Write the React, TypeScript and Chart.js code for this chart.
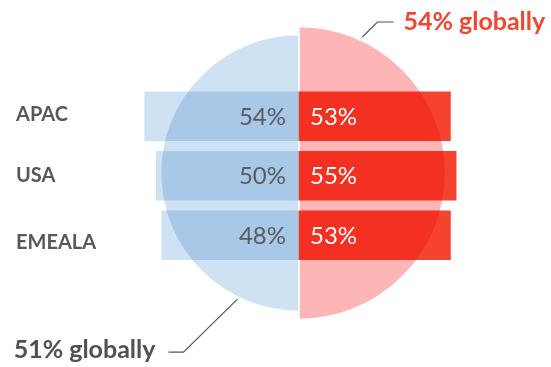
import React, { useEffect, useRef } from "react";
import { Chart, registerables } from "chart.js";

Chart.register(...registerables);

// ---- data ----
const regions = ["APAC", "USA", "EMEALA"];
const leftValues = [54, 50, 48]; // blue, drawn to the left of centre
const rightValues = [53, 55, 53]; // red, drawn to the right of centre
const globalLabels = ["right half", "left half"];
const globalValues = [54, 51]; // [red (right half), blue (left half)]
const globalText = ["54% globally", "51% globally"];

// ---- styling ----
const W = 551;
const H = 367;
const FONT = "Lato, 'Open Sans', sans-serif";
const BLUE = "#cfe2f3";
const PINK = "#fdb6b5";
const RED = "#f6432f";
const GRAY = "#56585c";
const LABEL_NUDGE = [-2, 0, 7];

export default function App() {
  const polarRef = useRef<HTMLCanvasElement | null>(null);
  const barRef = useRef<HTMLCanvasElement | null>(null);

  useEffect(() => {
    const polarCanvas = polarRef.current!;
    const barCanvas = barRef.current!;

    const polar = new Chart(polarCanvas, {
      type: "polarArea",
      data: {
        labels: globalLabels,
        datasets: [
          {
            data: globalValues,
            backgroundColor: [PINK, BLUE],
            borderColor: "#ffffff",
            borderWidth: 1.5,
          },
        ],
      },
      options: {
        responsive: false,
        animation: false,
        devicePixelRatio: 1,
        layout: { padding: { left: 137, right: 90, top: 11, bottom: 32 } },
        scales: { r: { display: false, min: 0, max: 59.7 } },
        plugins: { legend: { display: false }, tooltip: { enabled: false } },
      } as any,
    });

    const overlay = {
      id: "overlay",
      beforeDraw(chart: any) {
        const ctx = chart.ctx as CanvasRenderingContext2D;
        ctx.save();
        ctx.drawImage(polarCanvas, 0, 0);
        ctx.restore();
      },
      beforeDatasetsDraw(chart: any) {
        chart.ctx.save();
        chart.ctx.globalCompositeOperation = "multiply";
      },
      afterDatasetsDraw(chart: any) {
        const ctx = chart.ctx as CanvasRenderingContext2D;
        ctx.restore();
        const leftMeta = chart.getDatasetMeta(0);
        const rightMeta = chart.getDatasetMeta(1);
        ctx.save();
        ctx.textBaseline = "middle";
        regions.forEach((name, i) => {
          const lb = leftMeta.data[i];
          const rb = rightMeta.data[i];
          const centre = chart.scales.x.getPixelForValue(0);
          ctx.font = `24px ${FONT}`;
          ctx.fillStyle = "#5a5b5e";
          ctx.textAlign = "right";
          ctx.fillText(`${leftValues[i]}%`, centre - 13, lb.y + 1);
          ctx.fillStyle = "#ffffff";
          ctx.textAlign = "left";
          ctx.fillText(`${rightValues[i]}%`, centre + 11, rb.y + 1);
          ctx.font = `bold 20px ${FONT}`;
          ctx.fillStyle = GRAY;
          ctx.fillText(name, 16, lb.y + LABEL_NUDGE[i]);
        });

        // leader lines + global annotations, anchored on the polar arcs
        const pm = polar.getDatasetMeta(0);
        const redArc: any = pm.data[0];
        const blueArc: any = pm.data[1];
        ctx.strokeStyle = "#55575b";
        ctx.lineWidth = 1.2;

        const a1 = (-65 * Math.PI) / 180;
        const s1x = redArc.x + (redArc.outerRadius + 3.5) * Math.cos(a1);
        const s1y = redArc.y + (redArc.outerRadius + 3.5) * Math.sin(a1);
        ctx.beginPath();
        ctx.moveTo(s1x, s1y);
        ctx.lineTo(s1x + 15, s1y - 15);
        ctx.lineTo(s1x + 31, s1y - 15);
        ctx.stroke();
        ctx.font = `bold 25px ${FONT}`;
        ctx.fillStyle = "#f3452f";
        ctx.textAlign = "left";
        ctx.fillText(globalText[0], s1x + 41, s1y - 15);

        const a2 = (116 * Math.PI) / 180;
        const s2x = blueArc.x + (blueArc.outerRadius + 2) * Math.cos(a2);
        const s2y = blueArc.y + (blueArc.outerRadius + 2) * Math.sin(a2);
        ctx.beginPath();
        ctx.moveTo(s2x, s2y);
        ctx.lineTo(s2x - 54, s2y + 53);
        ctx.lineTo(s2x - 69, s2y + 53);
        ctx.stroke();
        ctx.fillStyle = "#4e5156";
        ctx.textAlign = "right";
        ctx.fillText(globalText[1], s2x - 82, s2y + 51);
        ctx.restore();
      },
    };

    const bar = new Chart(barCanvas, {
      type: "bar",
      data: {
        labels: regions,
        datasets: [
          { label: "left", data: leftValues.map((v) => -v), backgroundColor: BLUE },
          { label: "right", data: rightValues, backgroundColor: RED },
        ],
      },
      options: {
        indexAxis: "y",
        responsive: false,
        animation: false,
        devicePixelRatio: 1,
        layout: { padding: { left: 99, right: 52, top: 86.5, bottom: 102 } },
        datasets: { bar: { barThickness: 49 } },
        scales: {
          x: { display: false, min: -70, max: 70, stacked: true },
          y: { display: false, stacked: true },
        },
        plugins: { legend: { display: false }, tooltip: { enabled: false } },
      } as any,
      plugins: [overlay],
    });

    return () => {
      bar.destroy();
      polar.destroy();
    };
  }, []);

  return (
    <div style={{ position: "absolute", left: 0, top: 0, width: W, height: H, background: "#fff" }}>
      <canvas
        ref={polarRef}
        width={W}
        height={H}
        style={{ position: "absolute", left: 0, top: 0, width: W, height: H, visibility: "hidden" }}
      />
      <canvas
        ref={barRef}
        width={W}
        height={H}
        style={{ position: "absolute", left: 0, top: 0, width: W, height: H }}
      />
    </div>
  );
}
